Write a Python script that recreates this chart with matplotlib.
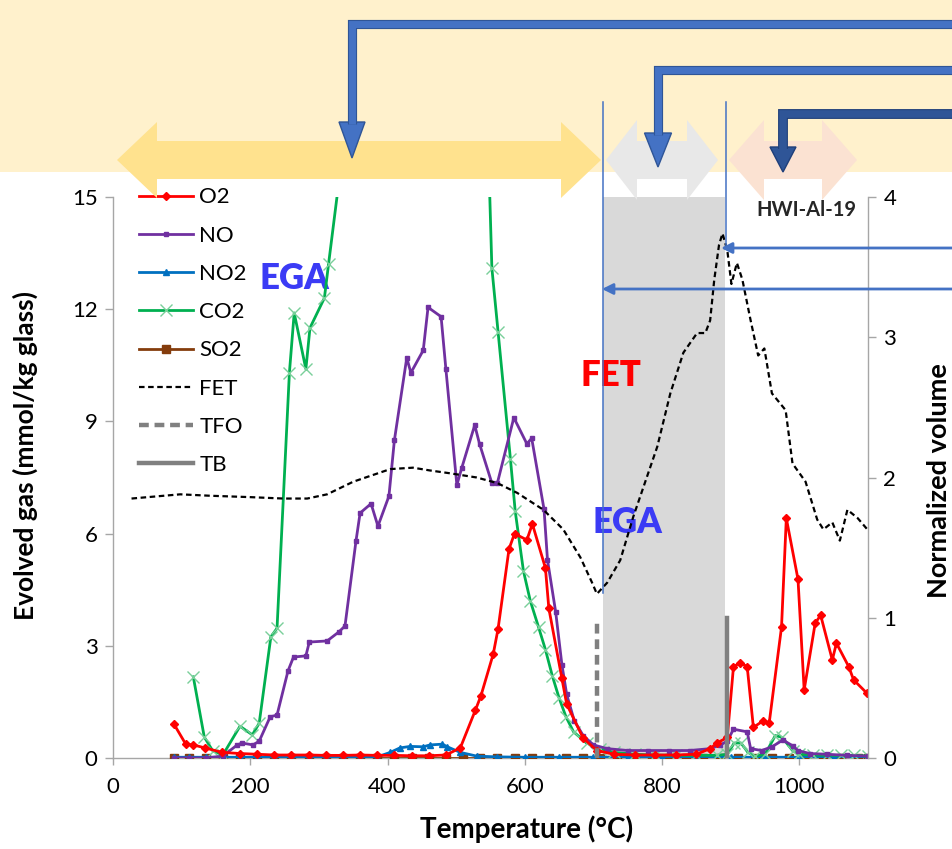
import matplotlib
matplotlib.use("Agg")
import matplotlib.pyplot as plt
from matplotlib.lines import Line2D
from matplotlib.patches import Polygon, Rectangle
import matplotlib.patheffects as pe

plt.rcParams['font.family'] = ['Lato', 'DejaVu Sans']

# ---------------- data ----------------
O2_T = [89, 106, 117, 134, 159, 185, 210, 235, 260, 285, 310, 335, 360, 385, 410, 435, 460, 485,
        506, 528, 536, 554, 561, 577, 585, 603, 611, 630, 635, 654, 661, 685, 705, 730, 760, 790,
        820, 850, 870, 880, 895, 904, 914, 924, 933, 947, 956, 974, 981, 998, 1007, 1023, 1031,
        1048, 1054, 1072, 1079, 1098]
O2_V = [0.9, 0.37, 0.35, 0.27, 0.15, 0.12, 0.1, 0.08, 0.08, 0.08, 0.07, 0.07, 0.08, 0.07, 0.07,
        0.06, 0.06, 0.08, 0.27, 1.28, 1.66, 2.78, 3.45, 5.59, 6.0, 5.83, 6.26, 5.08, 4.0, 2.13,
        1.44, 0.53, 0.2, 0.1, 0.08, 0.08, 0.08, 0.1, 0.25, 0.4, 0.55, 2.44, 2.55, 2.44, 0.82,
        0.99, 0.93, 3.5, 6.41, 4.78, 1.82, 3.6, 3.82, 2.62, 3.07, 2.44, 2.09, 1.74]

NO_T = [89, 110, 135, 160, 181, 188, 204, 213, 229, 239, 255, 263, 281, 286, 312, 329, 338, 354,
        360, 376, 386, 402, 410, 428, 434, 452, 459, 478, 485, 501, 508, 527, 534, 552, 560, 584,
        603, 610, 628, 633, 645, 654, 661, 672, 685, 700, 720, 750, 780, 810, 840, 870, 885, 895,
        904, 924, 929, 945, 960, 976, 990, 998, 1015, 1040, 1070, 1100]
NO_V = [0.0, 0.0, 0.0, 0.05, 0.35, 0.4, 0.35, 0.45, 1.1, 1.15, 2.33, 2.7, 2.73, 3.1, 3.13, 3.37,
        3.53, 5.8, 6.55, 6.8, 6.2, 7.0, 8.5, 10.7, 10.3, 10.9, 12.05, 11.8, 10.4, 7.3, 7.75, 8.9,
        8.4, 7.35, 7.35, 9.1, 8.4, 8.55, 6.65, 5.3, 3.9, 2.5, 1.7, 1.0, 0.6, 0.35, 0.25, 0.2, 0.2,
        0.2, 0.2, 0.25, 0.35, 0.45, 0.77, 0.7, 0.25, 0.2, 0.3, 0.48, 0.33, 0.2, 0.12, 0.1, 0.07,
        0.05]

NO2_T = [89, 110, 135, 160, 185, 210, 235, 260, 285, 310, 335, 360, 385, 404, 418, 433, 452, 462,
         480, 487, 506, 530, 560, 600, 650, 700, 750, 800, 850, 900, 950, 1000, 1050, 1100]
NO2_V = [0.02, 0.02, 0.02, 0.02, 0.02, 0.02, 0.02, 0.02, 0.02, 0.02, 0.02, 0.02, 0.03, 0.15, 0.27,
         0.31, 0.3, 0.35, 0.37, 0.3, 0.15, 0.05, 0.03, 0.02, 0.02, 0.02, 0.02, 0.02, 0.02, 0.02,
         0.02, 0.02, 0.03, 0.02]

CO2_T = [117, 133, 145, 160, 185, 203, 213, 230, 239, 257, 264, 281, 287, 308, 314, 340, 545, 552,
         561, 579, 586, 598, 608, 620, 630, 640, 650, 660, 671, 690, 710, 730, 760, 790, 820, 850,
         880, 895, 905, 915, 925, 935, 950, 965, 975, 990, 1000, 1020, 1040, 1060, 1080, 1100]
CO2_V = [2.17, 0.56, 0.2, 0.08, 0.85, 0.62, 0.93, 3.24, 3.47, 10.3, 11.9, 10.4, 11.5, 12.3, 13.2,
         17.0, 17.5, 13.1, 11.4, 8.0, 6.6, 5.0, 4.2, 3.5, 2.9, 2.2, 1.6, 1.1, 0.7, 0.4, 0.25, 0.15,
         0.1, 0.08, 0.07, 0.07, 0.07, 0.1, 0.4, 0.4, 0.15, 0.05, 0.1, 0.6, 0.55, 0.2, 0.1, 0.08,
         0.07, 0.07, 0.07, 0.05]

SO2_T = [89, 110, 135, 160, 185, 210, 235, 260, 285, 310, 335, 360, 385, 410, 435, 460, 485, 510,
         535, 560, 585, 610, 635, 660, 685, 710, 735, 760, 785, 810, 835, 860, 885, 910, 935, 960,
         985, 1010, 1035, 1060, 1085, 1100]
SO2_V = [0.0, 0.0, 0.0, 0.0, 0.0, 0.0, 0.0, 0.0, 0.0, 0.0, 0.0, 0.0, 0.0, 0.0, 0.0, 0.0, 0.0, 0.0,
         0.0, 0.0, 0.0, 0.0, 0.0, 0.0, 0.0, 0.0, 0.0, 0.0, 0.0, 0.0, 0.0, 0.0, 0.0, 0.0, 0.0, 0.0,
         0.0, 0.0, 0.0, 0.0, 0.0, 0.0]

FET_T = [27, 98, 141, 200, 248, 283, 312, 350, 404, 437, 462, 491, 530, 560, 589, 627, 656, 681,
         698, 705, 720, 739, 758, 793, 812, 831, 851, 863, 870, 876, 883, 888, 895, 901, 909, 917,
         929, 940, 949, 960, 980, 990, 1009, 1026, 1035, 1048, 1059, 1070, 1085, 1099]
FET_V = [1.85, 1.88, 1.87, 1.86, 1.85, 1.85, 1.88, 1.97, 2.06, 2.07, 2.05, 2.03, 2.0, 1.96, 1.89,
         1.77, 1.63, 1.43, 1.25, 1.17, 1.25, 1.41, 1.72, 2.22, 2.6, 2.89, 3.03, 3.03, 3.12, 3.41,
         3.66, 3.74, 3.62, 3.38, 3.53, 3.41, 3.12, 2.87, 2.92, 2.6, 2.48, 2.1, 1.97, 1.7, 1.63,
         1.68, 1.55, 1.77, 1.71, 1.63]

TFO_T = 705
TB_T = 895
MARK_H = 1.0          # height of TFO / TB markers (normalized volume)
FET_BAND = (714, 892)  # shaded FET window

LEFT_TICKS = [0, 3, 6, 9, 12, 15]
RIGHT_TICKS = [0, 1, 2, 3, 4]
X_TICKS = [0, 200, 400, 600, 800, 1000]

# ---------------- figure ----------------
W, H = 952, 849
fig = plt.figure(figsize=(W / 100, H / 100), dpi=100)

# background banner
bg = fig.add_axes([0, 0, 1, 1], zorder=-10)
bg.set_xlim(0, W); bg.set_ylim(H, 0); bg.axis('off')
bg.add_patch(Rectangle((0, 0), W, 172, facecolor='#FFF1CC', edgecolor='none'))

ax = fig.add_axes([113 / W, 1 - 758 / H, 755 / W, 561 / H])
ax2 = ax.twinx()

GRAY = '#A6A6A6'
ax.axvspan(FET_BAND[0], FET_BAND[1], color='#D9D9D9', zorder=0, lw=0)

lw = 2.0
ax.plot(SO2_T, SO2_V, color='#843C0C', marker='s', ms=6, lw=lw, zorder=3)
ax.plot(NO2_T, NO2_V, color='#0070C0', marker='^', ms=5, lw=lw, zorder=4)
ax.plot(CO2_T, CO2_V, color='#00B050', marker='x', ms=8, mew=1.0, mec='#7ACF9A', lw=lw, zorder=5)
ax.plot(NO_T, NO_V, color='#7030A0', marker='s', ms=3.5, lw=lw, zorder=6)
ax.plot(O2_T, O2_V, color='#FF0000', marker='D', ms=4.5, lw=lw, zorder=7)

ax2.plot(FET_T, FET_V, color='black', lw=1.6, dashes=(2.5, 1.6), zorder=5)
ax2.plot([TFO_T, TFO_T], [0, MARK_H], color='#808080', lw=3.2, dashes=(2.2, 1.3), zorder=6)
ax2.plot([TB_T, TB_T], [0, MARK_H], color='#808080', lw=3.2, zorder=6)

ax.set_xlim(0, 1100)
ax.set_ylim(0, 15)
ax2.set_ylim(0, 4)
ax.set_xticks(X_TICKS)
ax.set_yticks(LEFT_TICKS)
ax2.set_yticks(RIGHT_TICKS)

for a in (ax, ax2):
    a.spines['top'].set_visible(False)
    for s in a.spines.values():
        s.set_color(GRAY)
        s.set_linewidth(1.0)
ax.spines['right'].set_visible(False)
ax2.spines['left'].set_visible(False)
ax2.spines['bottom'].set_visible(False)

TK = 16
ax.tick_params(axis='y', direction='out', length=6, width=1, color=GRAY, labelsize=TK, pad=5)
ax.tick_params(axis='x', direction='out', length=5, width=1, color=GRAY, labelsize=TK, pad=9)
ax2.tick_params(axis='y', direction='out', length=6, width=1, color=GRAY, labelsize=TK, pad=5)

ax.set_xlabel('Temperature (°C)', fontsize=20, fontweight='bold')
ax.xaxis.set_label_coords(0.548, -0.103)
ax.set_ylabel('Evolved gas (mmol/kg glass)', fontsize=19, fontweight='bold')
ax.yaxis.set_label_coords(-0.099, 0.54)
ax2.set_ylabel('Normalized volume', fontsize=19.5, fontweight='bold')
ax2.yaxis.set_label_coords(1.078, 0.494)

handles = [
    Line2D([], [], color='#FF0000', marker='D', ms=4.5, lw=lw),
    Line2D([], [], color='#7030A0', marker='s', ms=3.5, lw=lw),
    Line2D([], [], color='#0070C0', marker='^', ms=5, lw=lw),
    Line2D([], [], color='#00B050', marker='x', ms=8, mew=1.0, mec='#7ACF9A', lw=lw),
    Line2D([], [], color='#843C0C', marker='s', ms=6, lw=lw),
    Line2D([], [], color='black', lw=1.6, dashes=(2.5, 1.6)),
    Line2D([], [], color='#808080', lw=3.2, dashes=(2.2, 1.3)),
    Line2D([], [], color='#808080', lw=3.2),
]
labels = ['O2', 'NO', 'NO2', 'CO2', 'SO2', 'FET', 'TFO', 'TB']
leg = ax2.legend(handles, labels, loc='upper left', bbox_to_anchor=(0.026, 1.029), frameon=False,
                 fontsize=16, handlelength=2.4, handletextpad=0.3, labelspacing=0.82,
                 borderaxespad=0.0, borderpad=0.3)

ax.text(265, 12.83, 'EGA', color='#3B3BF5', fontsize=25, fontweight='heavy', ha='center', va='center')
ax.text(726, 10.24, 'FET', color='#FF0000', fontsize=25, fontweight='heavy', ha='center', va='center')
ax.text(750, 6.31, 'EGA', color='#3B3BF5', fontsize=25, fontweight='heavy', ha='center', va='center')
ax2.text(1010, 3.91, 'HWI-Al-19', color='#262626', fontsize=14.5, fontweight='bold', ha='center', va='center')

# ---------------- overlay annotations (figure pixel space) ----------------
ov = fig.add_axes([0, 0, 1, 1], zorder=10)
ov.set_xlim(0, W); ov.set_ylim(H, 0); ov.axis('off')
ov.patch.set_alpha(0)

def dbl_arrow(x0, x1, hl, cy, hh, sh, color):
    pts = [(x0, cy), (x0 + hl, cy - hh), (x0 + hl, cy - sh), (x1 - hl, cy - sh), (x1 - hl, cy - hh),
           (x1, cy), (x1 - hl, cy + hh), (x1 - hl, cy + sh), (x0 + hl, cy + sh), (x0 + hl, cy + hh)]
    ov.add_patch(Polygon(pts, closed=True, facecolor=color, edgecolor='none'))

dbl_arrow(117, 601, 40, 160, 38, 19, '#FFE28E')
dbl_arrow(606, 718, 31, 160, 40, 19, '#E8E8E8')
dbl_arrow(729, 857, 35, 160, 40, 19, '#FBE2D2')

def elbow(yh, xv, ytip, hw, hlen, color, edge, w):
    ov.plot([W + 5, xv, xv], [yh, yh, ytip - hlen + 2], color=color, lw=w, solid_joinstyle='miter',
            solid_capstyle='butt',
            path_effects=[pe.Stroke(linewidth=w + 1.6, foreground=edge), pe.Normal()])
    ov.add_patch(Polygon([(xv - hw, ytip - hlen), (xv + hw, ytip - hlen), (xv, ytip)], closed=True,
                         facecolor=color, edgecolor=edge, lw=1))

elbow(24, 352, 158, 13, 36, '#4472C4', '#2F5597', 5.0)
elbow(70, 658, 167, 13.5, 34, '#4472C4', '#2F5597', 5.0)
elbow(114, 783, 172, 13, 25, '#2F5597', '#1F3F7A', 5.5)

BL = '#4472C4'
ov.plot([603, 603], [102, 593], color=BL, lw=1.1)
ov.plot([726, 726], [102, 248], color=BL, lw=1.1)
ov.annotate('', xy=(721, 248), xytext=(W + 5, 248),
            arrowprops=dict(arrowstyle='-|>', color=BL, lw=2.0, mutation_scale=16, shrinkA=0, shrinkB=0))
ov.annotate('', xy=(602, 289), xytext=(W + 5, 289),
            arrowprops=dict(arrowstyle='-|>', color=BL, lw=2.0, mutation_scale=16, shrinkA=0, shrinkB=0))

fig.savefig('out.png', dpi=100, facecolor='white')
